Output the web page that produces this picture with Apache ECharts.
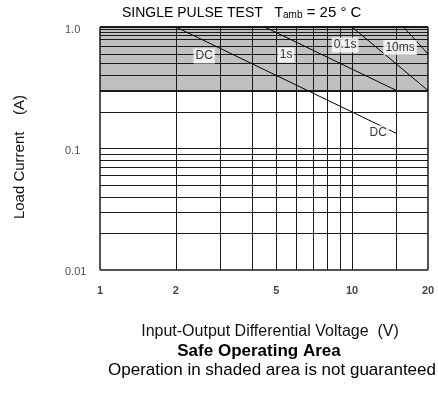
<!DOCTYPE html>
<html>
<head>
<meta charset="utf-8">
<script src="https://cdn.jsdelivr.net/npm/echarts@6/dist/echarts.min.js"></script>
<style>
html, body { margin: 0; padding: 0; background: #fff; }
#chart { width: 438px; height: 401px; }
</style>
</head>
<body>
<div id="chart"></div>
<script>
// axis ticks / grid
var xTicks = [1, 2, 5, 10, 20];
var yTicks = [1, 0.1, 0.01];
var gridX = [2, 3, 4, 5, 6, 7, 8, 9, 10, 15];
var gridY = [0.02, 0.03, 0.04, 0.05, 0.06, 0.07, 0.08, 0.09, 0.1, 0.2, 0.4, 0.5, 0.6, 0.7, 0.8, 0.85, 0.9, 0.95];
var shadeLimit = 0.3;

// SOA curves  [V, A]
var dcLine = [[2, 1], [15, 0.133]];
var pulse1s = [[4.5, 1], [15, 0.3]];
var pulse100ms = [[10, 1], [20, 0.3]];
var pulse10ms = [[16, 1], [20, 0.6]];

// curve labels  [text, V, A]
var curveLabels = [['DC', 2.59, 0.577], ['1s', 5.47, 0.588], ['0.1s', 9.38, 0.711], ['10ms', 15.5, 0.678], ['DC', 12.7, 0.134]];

var FONT = 'Liberation Sans';
var chart = echarts.init(document.getElementById('chart'));

var gridLines = gridX.map(function (v) { return { xAxis: v }; })
    .concat(gridY.map(function (v) { return { yAxis: v }; }));
// frame + shade limit
gridLines.push({ xAxis: 1, lineStyle: { width: 1.5 } });
gridLines.push({ xAxis: 20, lineStyle: { width: 1.5 } });
gridLines.push({ yAxis: 0.01, lineStyle: { width: 1.5 } });
gridLines.push({ yAxis: 1, lineStyle: { width: 2 } });
gridLines.push({ yAxis: shadeLimit, lineStyle: { width: 2.2 } });

function curve(name, data) {
    return {
        name: name,
        type: 'line',
        data: data,
        symbol: 'none',
        z: 3,
        lineStyle: { color: '#000', width: 1 },
        animation: false
    };
}

var option = {
    animation: false,
    grid: { left: 100, right: 10, top: 27, bottom: 131 },
    xAxis: {
        type: 'log', logBase: 10, min: 1, max: 20,
        axisLine: { show: false }, axisTick: { show: false },
        axisLabel: { show: false }, splitLine: { show: false }
    },
    yAxis: {
        type: 'log', logBase: 10, min: 0.01, max: 1,
        axisLine: { show: false }, axisTick: { show: false },
        axisLabel: { show: false }, splitLine: { show: false }
    },
    series: [
        {
            name: 'shade',
            type: 'line',
            data: [],
            z: 1,
            markArea: {
                silent: true,
                z: 1,
                itemStyle: { color: '#c0c0c0' },
                data: [[{ xAxis: 1, yAxis: shadeLimit }, { xAxis: 20, yAxis: 1 }]]
            }
        },
        {
            name: 'grid',
            type: 'line',
            data: [],
            z: 2,
            markLine: {
                silent: true,
                z: 2,
                symbol: 'none',
                label: { show: false },
                lineStyle: { color: '#1a1a1a', width: 1, type: 'solid' },
                data: gridLines
            }
        },
        curve('DC', dcLine),
        curve('1s', pulse1s),
        curve('0.1s', pulse100ms),
        curve('10ms', pulse10ms),
        {
            name: 'labels',
            type: 'scatter',
            z: 6,
            symbolSize: 0,
            data: curveLabels.map(function (d) { return { name: d[0], value: [d[1], d[2]] }; }),
            label: {
                show: true, position: 'inside', formatter: '{b}',
                color: '#000', fontFamily: FONT, fontSize: 12,
                backgroundColor: '#fff', padding: [2, 2, 1, 2]
            }
        },
        {
            name: 'xticks',
            type: 'scatter',
            symbolSize: 0,
            clip: false,
            data: xTicks.map(function (v) { return [v, 0.01]; }),
            label: {
                show: true, position: 'bottom', distance: 15,
                formatter: function (p) { return String(p.value[0]); },
                color: '#111', fontFamily: FONT, fontSize: 11, fontWeight: 'bold'
            }
        },
        {
            name: 'yticks',
            type: 'scatter',
            symbolSize: 0,
            clip: false,
            data: yTicks.map(function (v) {
                return { value: [1, v], label: { offset: [0, v === 1 ? 3 : 2] } };
            }),
            label: {
                show: true, position: 'left', distance: 35, align: 'left',
                formatter: function (p) { return p.value[1] === 1 ? '1.0' : String(p.value[1]); },
                color: '#222', fontFamily: FONT, fontSize: 11
            }
        }
    ],
    graphic: [
        {
            type: 'text', left: 122, top: 5,
            style: {
                text: '{a|SINGLE PULSE TEST   T}{b|amb}{c| = 25 ° C}',
                rich: {
                    a: { fontFamily: FONT, fontSize: 14, fill: '#000', verticalAlign: 'bottom' },
                    b: { fontFamily: FONT, fontSize: 10, fill: '#000', verticalAlign: 'bottom' },
                    c: { fontFamily: FONT, fontSize: 15, fill: '#000', verticalAlign: 'bottom' }
                }
            }
        },
        {
            type: 'text', x: 20, y: 157, rotation: Math.PI / 2,
            style: {
                text: 'Load Current    (A)', align: 'center', verticalAlign: 'middle',
                fontFamily: FONT, fontSize: 15, fill: '#111'
            }
        },
        {
            type: 'text', x: 270, y: 332,
            style: {
                text: 'Input-Output Differential Voltage  (V)', align: 'center', verticalAlign: 'middle',
                fontFamily: FONT, fontSize: 16, fill: '#111'
            }
        },
        {
            type: 'text', x: 259, y: 351,
            style: {
                text: 'Safe Operating Area', align: 'center', verticalAlign: 'middle',
                fontFamily: FONT, fontSize: 17, fontWeight: 'bold', fill: '#000'
            }
        },
        {
            type: 'text', x: 272, y: 370,
            style: {
                text: 'Operation in shaded area is not guaranteed', align: 'center', verticalAlign: 'middle',
                fontFamily: FONT, fontSize: 17, fill: '#000'
            }
        }
    ]
};

chart.setOption(option);
window.onresize = function () {
    chart.resize();
};
</script>
</body>
</html>
